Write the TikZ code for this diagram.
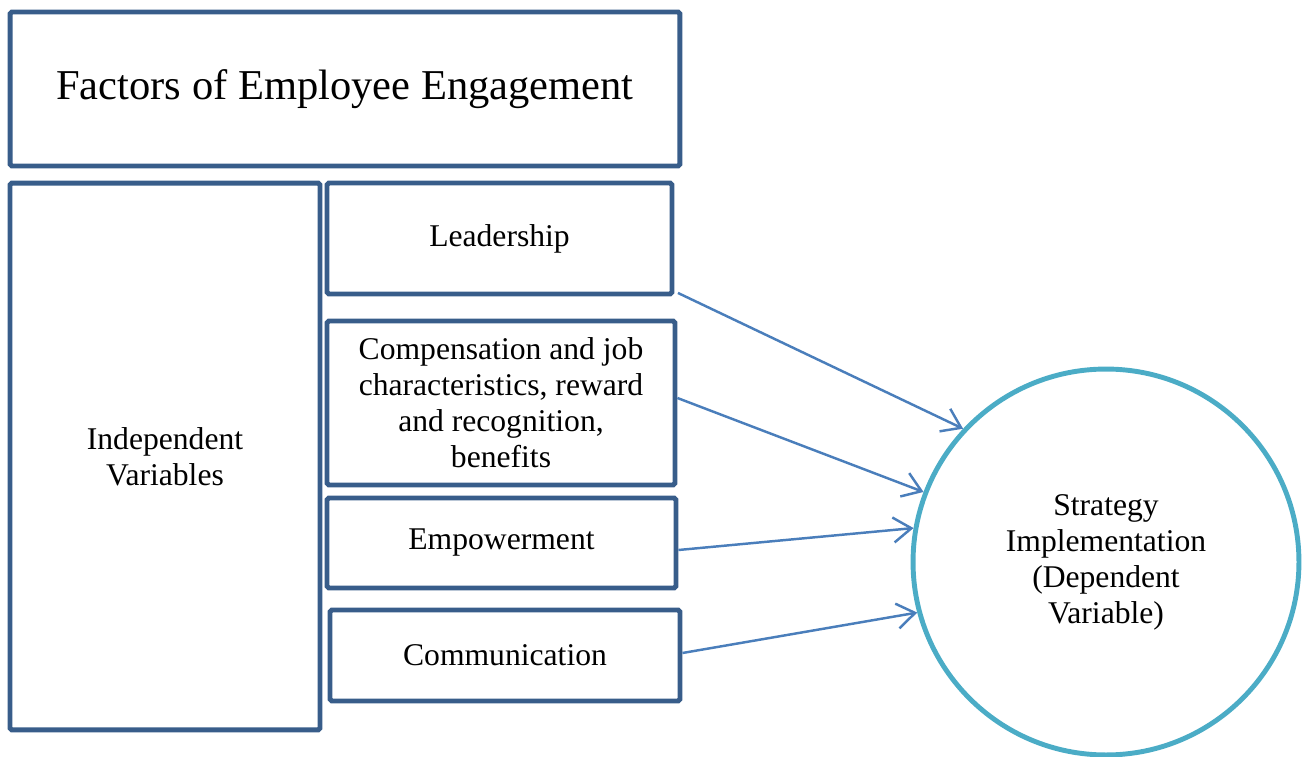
\documentclass[tikz,border=0pt]{standalone}
\usepackage{fontspec}
\setmainfont{Liberation Serif}
\usetikzlibrary{arrows.meta, positioning}

\definecolor{boxblue}{HTML}{385D8A}
\definecolor{ringblue}{HTML}{4BACC6}
\definecolor{arrowblue}{HTML}{4A7EBB}

\begin{document}
\begin{tikzpicture}[
    x=0.02cm,
    y=-0.02cm,
    factor/.style={rectangle, draw=boxblue, line width=2.8pt, rounded corners=1pt,
                   align=center, font=\fontsize{18}{20.5}\selectfont},
    link/.style={draw=arrowblue, line width=1.4pt,
                 -{Straight Barb[length=3.6mm, width=5mm, line width=1.4pt]}},
]

    \useasboundingbox (0,0) rectangle (1309,757);

    \node[factor, minimum width=13.4cm, minimum height=3.08cm,
          font=\fontsize{24.2}{28}\selectfont] (title) at (345, 89)
          {Factors of Employee Engagement};

    \node[factor, minimum width=6.2cm,  minimum height=10.94cm] (indep) at (165, 456.5)
          {Independent\\Variables};

    \node[factor, minimum width=6.9cm,  minimum height=2.22cm] (lead) at (499.5, 238.5) {Leadership};
    \node[factor, minimum width=6.96cm, minimum height=3.28cm] (comp) at (501, 403)
          {Compensation and job\\characteristics, reward\\and recognition,\\benefits};
    \node[factor, minimum width=6.98cm, minimum height=1.8cm]  (emp)  at (501.5, 543) {Empowerment};
    \node[factor, minimum width=7cm,    minimum height=1.82cm] (comm) at (505, 655.5) {Communication};

    \node[circle, draw=ringblue, line width=2.8pt, minimum size=7.72cm, inner sep=0pt,
          align=center, font=\fontsize{18}{20.5}\selectfont] (dv) at (1106, 562)
          {Strategy\\Implementation\\(Dependent\\Variable)};

    % each factor points at the dependent variable
    \draw[link] ([xshift=2pt, yshift=2pt]lead.south east) -- (dv.137);
    \draw[link] ([yshift=0.1cm]comp.east)  -- (dv.159);
    \draw[link] ([yshift=-0.14cm]emp.east) -- (dv.170);
    \draw[link] ([yshift=0.05cm]comm.east) -- (dv.195);

\end{tikzpicture}
\end{document}
